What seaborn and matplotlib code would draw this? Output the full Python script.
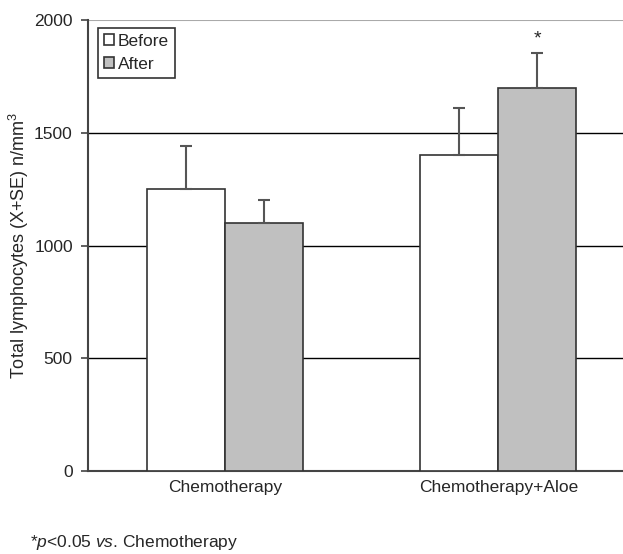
import matplotlib
matplotlib.use("Agg")
import matplotlib.pyplot as plt
import seaborn as sns
import pandas as pd

# Data
groups = ["Chemotherapy", "Chemotherapy+Aloe"]
phases = ["Before", "After"]
before_vals = [1250, 1400]
after_vals = [1100, 1700]
before_se = [190, 210]
after_se = [100, 155]
star_y = 1915

df = pd.DataFrame({
    "group": groups * 2,
    "phase": ["Before"] * 2 + ["After"] * 2,
    "value": before_vals + after_vals,
    "se": before_se + after_se,
})

sns.set_style("white")
plt.rcParams["font.family"] = ["Liberation Sans", "DejaVu Sans"]
plt.rcParams["mathtext.fontset"] = "custom"
plt.rcParams["mathtext.rm"] = "Liberation Sans"
plt.rcParams["mathtext.it"] = "Liberation Sans:italic"

fs = 12.5

fig = plt.figure(figsize=(6.23, 5.54), dpi=100)
ax = fig.add_axes([0.1413, 0.1498, 0.8587, 0.8141])

sns.barplot(data=df, x="group", y="value", hue="phase", hue_order=phases,
            order=groups, palette=["white", "#c0c0c0"], width=0.57,
            edgecolor="#333333", linewidth=1.2, errorbar=None, ax=ax,
            zorder=3)

# upper-only error bars
for cont, phase in zip(ax.containers, phases):
    sub = df[df["phase"] == phase].set_index("group").loc[groups]
    xs = [p.get_x() + p.get_width() / 2 for p in cont]
    ax.errorbar(xs, sub["value"], yerr=[[0] * len(xs), sub["se"]],
                fmt="none", ecolor="#555555", elinewidth=1.5, capsize=4,
                capthick=1.5, zorder=4)

# significance star above Aloe/After bar
p = ax.containers[1][1]
ax.text(p.get_x() + p.get_width() / 2, star_y, "*", ha="center",
        va="center", fontsize=14)

ax.set_ylim(0, 2000)
ax.set_xlim(-0.5, 1.456)
ax.set_yticks([0, 500, 1000, 1500, 2000])
for y in [500, 1000, 1500]:
    ax.axhline(y, color="black", linewidth=1.0, zorder=1)
ax.axhline(2000, color="#aaaaaa", linewidth=1.5, zorder=1)

for s in ["top", "right"]:
    ax.spines[s].set_visible(False)
ax.spines["left"].set_color("#444444")
ax.spines["left"].set_linewidth(1.5)
ax.spines["bottom"].set_color("#444444")
ax.spines["bottom"].set_linewidth(1.5)
ax.tick_params(axis="y", left=True, length=5, width=1.2, color="#444444",
               labelsize=fs, pad=6)
ax.tick_params(axis="x", bottom=False, labelsize=fs, pad=3)

ax.set_xlabel("")
ax.set_ylabel(r"Total lymphocytes (X+SE) n/mm$^{\mathregular{3}}$", fontsize=13)
ax.yaxis.set_label_coords(-0.106, 0.5)

leg = ax.legend(loc="upper left", bbox_to_anchor=(0.018, 0.983), fontsize=fs,
                handlelength=0.6, handleheight=0.6, handletextpad=0.2,
                borderpad=0.35, labelspacing=0.45, frameon=True, fancybox=False,
                edgecolor="#333333", framealpha=1, borderaxespad=0)
leg.get_frame().set_linewidth(1.2)

fig.text(0.048, 0.0125, r"*$\it{p}$<0.05 $\it{vs}$. Chemotherapy", fontsize=fs)

fig.savefig("out.png", dpi=100)
